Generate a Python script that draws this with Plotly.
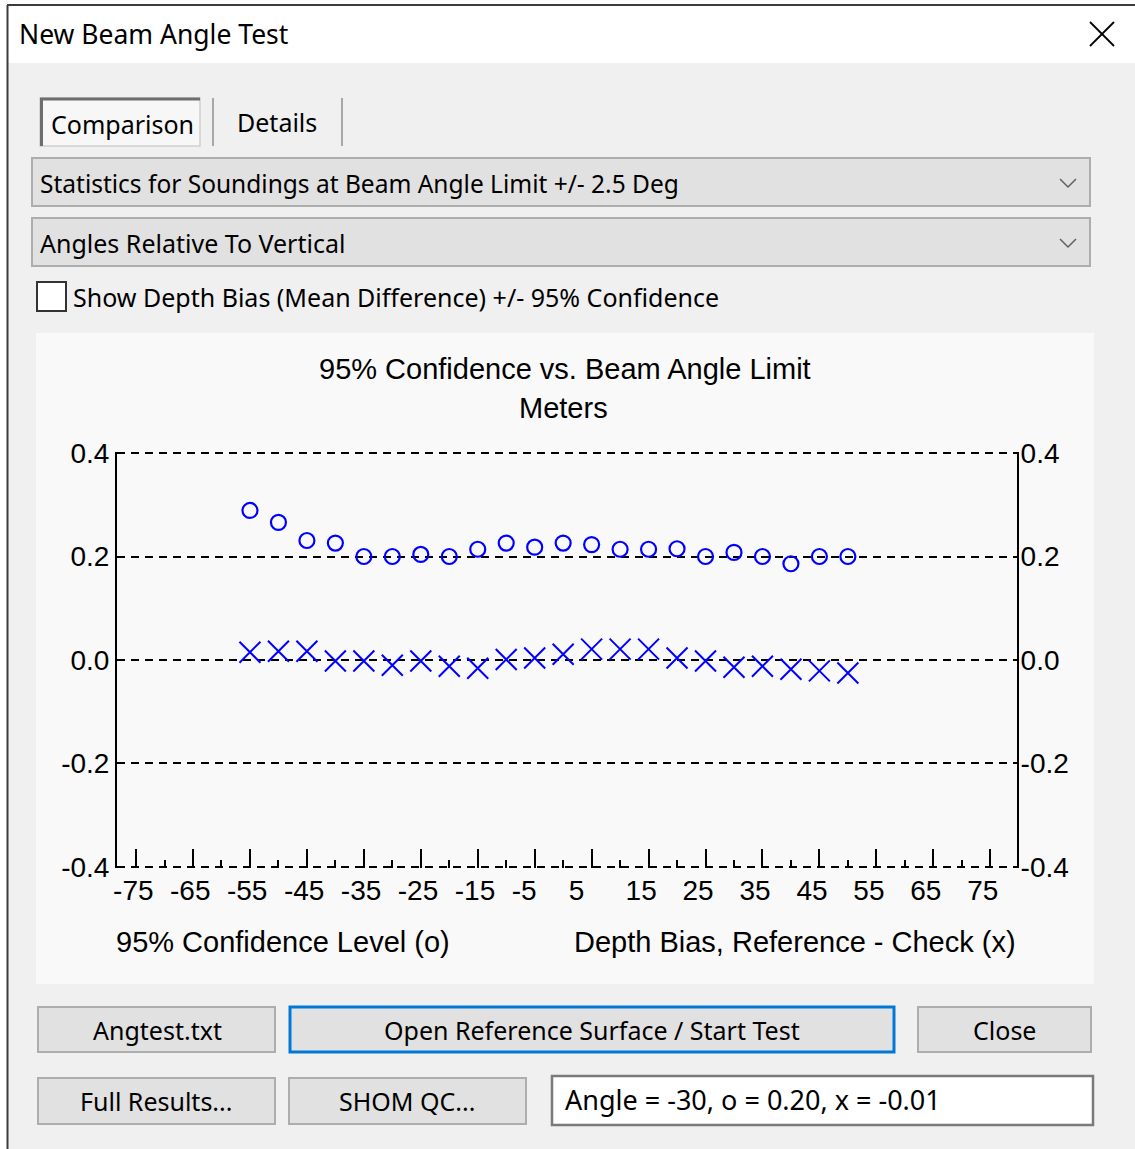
import plotly.graph_objects as go

# ---- data -------------------------------------------------------------
angles = [-55, -50, -45, -40, -35, -30, -25, -20, -15, -10, -5,
          0, 5, 10, 15, 20, 25, 30, 35, 40, 45, 50]
conf95 = [0.289, 0.266, 0.231, 0.226, 0.200, 0.200, 0.204, 0.200, 0.214, 0.226, 0.218,
          0.226, 0.223, 0.214, 0.214, 0.215, 0.200, 0.208, 0.200, 0.186, 0.200, 0.200]
bias = [0.015, 0.017, 0.017, -0.002, -0.002, -0.010, -0.002, -0.012, -0.016, 0.001, 0.004,
        0.011, 0.021, 0.021, 0.021, 0.004, -0.002, -0.014, -0.012, -0.018, -0.021, -0.025]

x_major = [-75, -65, -55, -45, -35, -25, -15, -5, 5, 15, 25, 35, 45, 55, 65, 75]
x_minor = [-70, -60, -50, -40, -30, -20, -10, 0, 10, 20, 30, 40, 50, 60, 70]
y_ticks = [-0.4, -0.2, 0.0, 0.2, 0.4]
y_ticktext = ["-0.4", "-0.2", "0.0", "0.2", "0.4"]

selected_angle = -30

# ---- page geometry (pixels) --------------------------------------------
W, H = 1135, 1149
L, R, T, B = 117, 1017, 452, 868


def px(x):
    return (x - L) / (R - L)


def py(y):
    return (B - y) / (B - T)


UI_FONT = "Noto Sans"
PLOT_FONT = "Liberation Sans"
UI_SIZE = 25
PLOT_SIZE = 29
TICK_SIZE = 28

shapes = []
annotations = []


def rect(x0, y0, x1, y1, fill, line=None, width=0, layer="below"):
    shapes.append(dict(type="rect", xref="paper", yref="paper",
                       x0=px(x0), x1=px(x1), y0=py(y1), y1=py(y0),
                       fillcolor=fill, layer=layer,
                       line=dict(color=line or fill, width=width)))


def seg(x0, y0, x1, y1, color, width=1, layer="below"):
    shapes.append(dict(type="line", xref="paper", yref="paper",
                       x0=px(x0), x1=px(x1), y0=py(y0), y1=py(y1),
                       layer=layer, line=dict(color=color, width=width)))


def text(x, y, s, size=UI_SIZE, family=UI_FONT, anchor="left", color="#000000"):
    annotations.append(dict(xref="paper", yref="paper", x=px(x), y=py(y),
                            text=s, showarrow=False, xanchor=anchor, yanchor="middle",
                            font=dict(family=family, size=size, color=color)))


def chevron(x, y):
    shapes.append(dict(type="path", xref="paper", yref="paper", layer="below",
                       path="M {} {} L {} {} L {} {}".format(px(x - 8), py(y - 4), px(x), py(y + 4),
                                                          px(x + 8), py(y - 4)),
                       line=dict(color="#606060", width=1.5)))


# window frame and title bar
rect(8, 63, W + 5, H + 5, "#F0F0F0")
rect(8, 6, W + 5, 63, "#FFFFFF")
seg(7, 5, W + 5, 5, "#3C3C3C", 2)
seg(7.5, 5, 7.5, H + 5, "#3C3C3C", 2)
text(17, 34, "New Beam Angle Test", size=UI_SIZE + 1.5)
seg(1090, 22, 1114, 46, "#000000", 1.8)
seg(1090, 46, 1114, 22, "#000000", 1.8)

# tabs
rect(40, 98, 200, 146, "#F7F7F7", "#D0D0D0", 1.5)
seg(40, 99, 200, 99, "#6E6E6E", 3)
seg(41.5, 98, 41.5, 146, "#6E6E6E", 3)
text(122, 124, "Comparison", anchor="center")
seg(213, 98, 213, 146, "#A8A8A8", 2)
text(277, 122, "Details", anchor="center")
seg(342, 98, 342, 146, "#A8A8A8", 2)

# combo boxes
rect(32, 158, 1090, 206, "#E1E1E1", "#ADADAD", 2)
text(38, 183, "Statistics for Soundings at Beam Angle Limit +/- 2.5 Deg", size=UI_SIZE - 0.5)
chevron(1068, 183)
rect(32, 218, 1090, 266, "#E1E1E1", "#ADADAD", 2)
text(38, 243, "Angles Relative To Vertical")
chevron(1068, 243)

# check box
rect(37, 282, 66, 311, "#FFFFFF", "#333333", 2)
text(71, 297, "Show Depth Bias (Mean Difference) +/- 95% Confidence")

# chart panel
rect(36, 333, 1094, 984, "#F9F9F9")
text(565, 369, "95% Confidence vs. Beam Angle Limit", size=PLOT_SIZE, family=PLOT_FONT, anchor="center")
text(563, 408, "Meters", size=PLOT_SIZE, family=PLOT_FONT, anchor="center")
text(114, 942, "95% Confidence Level (o)", size=PLOT_SIZE, family=PLOT_FONT)
text(1018, 942, "Depth Bias, Reference - Check (x)", size=PLOT_SIZE, family=PLOT_FONT, anchor="right")

# buttons
rect(38, 1007, 275, 1052, "#E1E1E1", "#ADADAD", 2)
text(157, 1030, "Angtest.txt", anchor="center")
rect(290, 1007, 894, 1052, "#E1E1E1", "#0078D7", 3)
text(592, 1030, "Open Reference Surface / Start Test", anchor="center")
rect(918, 1007, 1091, 1052, "#E1E1E1", "#ADADAD", 2)
text(1004, 1030, "Close", anchor="center")
rect(38, 1078, 275, 1124, "#E1E1E1", "#ADADAD", 2)
text(156, 1101, "Full Results...", anchor="center")
rect(289, 1078, 526, 1124, "#E1E1E1", "#ADADAD", 2)
text(407, 1101, "SHOM QC...", anchor="center")

# read-out box for the selected angle
i_sel = angles.index(selected_angle)
rect(552, 1076, 1093, 1125, "#FFFFFF", "#7A7A7A", 2.5)
text(563, 1099, "Angle = {}, o = {:.2f}, x = {:.2f}".format(angles[i_sel], conf95[i_sel], bias[i_sel]),
     size=UI_SIZE + 2)

# ---- figure -------------------------------------------------------------
fig = go.Figure()
fig.add_trace(go.Scatter(
    x=angles, y=conf95, mode="markers", name="95% Confidence Level (o)",
    marker=dict(symbol="circle-open", size=15, color="#0000FF", line=dict(width=2.2, color="#0000FF")),
))
fig.add_trace(go.Scatter(
    x=angles, y=bias, mode="markers", name="Depth Bias, Reference - Check (x)",
    yaxis="y2",
    marker=dict(symbol="x-thin-open", size=21, color="#0000FF", line=dict(width=2, color="#0000FF")),
))

tick_font = dict(family=PLOT_FONT, size=TICK_SIZE, color="#000000")
yrange = [-0.402, 0.402]

fig.update_layout(
    width=W, height=H,
    margin=dict(l=L, r=W - R, t=T, b=H - B, pad=0),
    paper_bgcolor="#FFFFFF",
    plot_bgcolor="#F9F9F9",
    showlegend=False,
    shapes=shapes,
    annotations=annotations,
    xaxis=dict(
        range=[-78.35, 79.7], showgrid=False, zeroline=False, showline=False,
        tickmode="array", tickvals=x_major, ticktext=[str(v) for v in x_major],
        ticks="inside", ticklen=19, tickwidth=2, tickcolor="#000000",
        ticklabelposition="outside right", ticklabelshift=-24, ticklabelstandoff=3,
        tickfont=tick_font,
        minor=dict(tickmode="array", tickvals=x_minor, ticks="inside", ticklen=8,
                   tickwidth=2, tickcolor="#000000", showgrid=False),
    ),
    yaxis=dict(
        range=yrange, zeroline=False,
        showline=True, linecolor="#000000", linewidth=2,
        showgrid=True, gridcolor="#000000", gridwidth=2, griddash="8px,6px",
        tickmode="array", tickvals=y_ticks, ticktext=y_ticktext, ticks="",
        tickfont=tick_font, ticklabelstandoff=0,
    ),
    yaxis2=dict(
        range=yrange, overlaying="y", side="right", zeroline=False,
        showline=True, linecolor="#000000", linewidth=2, showgrid=False,
        tickmode="array", tickvals=y_ticks, ticktext=y_ticktext, ticks="",
        tickfont=tick_font, ticklabelstandoff=-4,
    ),
)

fig.write_html("out.html")
